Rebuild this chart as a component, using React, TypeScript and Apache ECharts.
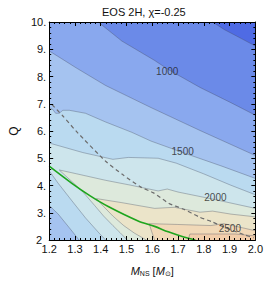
import React, { useEffect, useRef } from "react";
import * as echarts from "echarts";

// ---------- data ----------
const TITLE = "EOS 2H, χ=-0.25";
const X_MIN = 1.2, X_MAX = 2.0, X_STEP = 0.1;
const Y_MIN = 2, Y_MAX = 10, Y_STEP = 1;
const xTickLabels = ["1.2", "1.3", "1.4", "1.5", "1.6", "1.7", "1.8", "1.9", "2.0"];
const yTickLabels = ["2", "3.", "4.", "5.", "6.", "7.", "8.", "9.", "10."];

const levels = [750, 1000, 1250, 1500, 1750, 2000, 2250, 2500, 2750];

// contour 750 (top-right corner)
const c750 = [[1.834, 10], [1.88, 9.72], [1.94, 9.42], [2.0, 9.12]];
// contour 1000
const c1000 = [[1.39, 10], [1.482, 9.3], [1.609, 8.59], [1.665, 8.24], [1.785, 7.6], [1.905, 7.04], [2.0, 6.58]];
// contour 1250
const c1250 = [[1.2, 8.94], [1.306, 8.31], [1.419, 7.67], [1.595, 6.86], [1.785, 6.02], [2.0, 5.1]];
// contour 1500, main branch and lower-left branch
const c1500 = [[1.2, 6.86], [1.214, 6.79], [1.225, 6.65], [1.239, 6.65], [1.253, 6.76], [1.278, 6.76], [1.341, 6.65], [1.419, 6.33], [1.521, 5.95], [1.595, 5.63], [1.718, 5.21], [1.87, 4.71], [2.0, 4.26]];
const c1500b = [[1.2, 3.27], [1.235, 2.95], [1.278, 2.45], [1.316, 2.0]];
// contour 1750, main branch and lower-left branch
const c1750 = [[1.2, 5.56], [1.33, 5.21], [1.447, 4.96], [1.507, 5.03], [1.623, 5.0], [1.693, 4.82], [1.799, 4.43], [1.905, 4.01], [2.0, 3.66]];
const c1750b = [[1.2, 4.54], [1.235, 4.08], [1.288, 3.44], [1.341, 2.81], [1.394, 2.25], [1.419, 2.0]];
// contour 2000, upper edge from tip and lower edge from tip
const c2000 = [[1.239, 4.57], [1.306, 4.43], [1.419, 4.19], [1.517, 4.01], [1.552, 3.94], [1.623, 3.8], [1.658, 3.87], [1.7, 3.76], [1.845, 3.48], [2.0, 3.16]];
const c2000b = [[1.239, 4.57], [1.263, 4.36], [1.299, 4.05], [1.334, 3.73], [1.376, 3.27], [1.411, 2.88], [1.447, 2.53], [1.475, 2.27], [1.503, 2.0]];
// contour 2250
const c2250 = [[1.383, 3.52], [1.482, 3.37], [1.609, 3.16], [1.686, 3.2], [1.785, 3.02], [1.834, 3.06], [1.905, 2.95], [2.0, 2.85]];
const c2250b = [[1.383, 3.52], [1.411, 3.23], [1.447, 2.88], [1.489, 2.53], [1.531, 2.25], [1.577, 2.0]];
// contour 2500
const c2500 = [[1.588, 2.6], [1.697, 2.57], [1.827, 2.53], [1.877, 2.6], [1.94, 2.47], [2.0, 2.34]];
const c2500b = [[1.588, 2.6], [1.598, 2.3], [1.609, 2.0]];
// contour 2750
const c2750 = [[1.739, 2.0], [1.746, 2.22], [1.834, 2.22], [1.922, 2.22], [2.0, 2.15]];

// dashed grey curve
const dashed = [[1.211, 6.97], [1.253, 6.55], [1.309, 5.95], [1.419, 4.89], [1.485, 4.4], [1.556, 3.94], [1.605, 3.73], [1.665, 3.34], [1.722, 3.13], [1.781, 2.85], [1.831, 2.67], [1.887, 2.44], [1.958, 2.19], [1.993, 2.08]];
// green curve
const green = [[1.2, 4.71], [1.288, 4.08], [1.359, 3.62], [1.429, 3.23], [1.545, 2.7], [1.609, 2.5], [1.662, 2.3], [1.722, 2.11], [1.767, 2.0]];

// contour labels
const labelPoints = [[1.658, 8.2, "1000"], [1.718, 5.24, "1500"], [1.845, 3.55, "2000"], [1.901, 2.44, "2500"]];

// ---------- styles ----------
const bandColors = ["#4f6be4", "#6b8ae8", "#89a8ee", "#a5c3f0", "#badaf0", "#cde5ec", "#dde9dc", "#ebe4c9", "#f1d9b8", "#f2cdaa"];
const FONT = "Liberation Sans, Arial, sans-serif";

function rev(a: number[][]) {
  return a.slice().reverse();
}

export default function App() {
  const ref = useRef<HTMLDivElement>(null);
  useEffect(() => {
    if (!ref.current) return;
    const chart = echarts.init(ref.current, null, { renderer: "svg" });

    const BR = [X_MAX, Y_MIN];
    const BL = [X_MIN, Y_MIN];
    const TL = [X_MIN, Y_MAX];
    const TR = [X_MAX, Y_MAX];
    // regions with value >= level, painted in order
    const regions: number[][][] = [
      [TL, TR, BR, BL],
      [...c750, BR, BL, TL],
      [...c1000, BR, BL, TL],
      [...c1250, BR, BL],
      [...c1500, BR, ...rev(c1500b)],
      [...c1750, BR, ...rev(c1750b)],
      [...c2000, BR, ...rev(c2000b)],
      [...c2250, BR, ...rev(c2250b)],
      [...c2500, BR, ...rev(c2500b)],
      [...c2750, BR],
    ];

    const contourLines = [c750, c1000, c1250, c1500, c1500b, c1750, c1750b, c2000, c2000b, c2250, c2250b, c2500, c2500b, c2750];

    const axisCommon = {
      type: "value",
      z: 10,
      axisLine: { show: true, onZero: false, lineStyle: { color: "#000", width: 1 } },
      axisTick: { show: true, inside: true, length: 4, lineStyle: { color: "#000", width: 1 } },
      minorTick: { show: true, splitNumber: 5, length: 2, lineStyle: { color: "#000", width: 1 } },
      splitLine: { show: false },
    };

    const option: any = {
      animation: false,
      title: {
        text: TITLE,
        left: 97,
        top: 1,
        textStyle: { fontSize: 11, fontWeight: "normal", fontFamily: FONT, color: "#111" },
      },
      grid: { left: 30, right: 9, top: 22, bottom: 33, show: false },
      xAxis: [
        {
          ...axisCommon,
          position: "bottom",
          min: X_MIN,
          max: X_MAX,
          interval: X_STEP,
          axisLabel: {
            fontSize: 11,
            fontFamily: FONT,
            color: "#111",
            margin: 3,
            formatter: (v: number) => xTickLabels[Math.round((v - X_MIN) / X_STEP)] ?? "",
          },
          name: "{i|M}{s|NS} [{i|M}{s|⊙}]",
          nameLocation: "middle",
          nameGap: 25,
          nameTextStyle: {
            fontFamily: FONT,
            color: "#111",
            fontSize: 11,
            rich: {
              i: { fontStyle: "italic", fontSize: 11, fontFamily: FONT, color: "#111" },
              s: { fontSize: 7, fontFamily: FONT, color: "#111", padding: [5, 0, 0, 0] },
            },
          },
        },
        {
          ...axisCommon,
          position: "top",
          min: X_MIN,
          max: X_MAX,
          interval: X_STEP,
          axisLabel: { show: false },
        },
      ],
      yAxis: [
        {
          ...axisCommon,
          position: "left",
          min: Y_MIN,
          max: Y_MAX,
          interval: Y_STEP,
          axisLabel: {
            fontSize: 11,
            fontFamily: FONT,
            color: "#111",
            margin: 3,
            formatter: (v: number) => {
              const i = Math.round((v - Y_MIN) / Y_STEP);
              const t = yTickLabels[i] ?? "";
              return i === 0 ? "{b|" + t + "}" : t;
            },
            rich: {
              b: { fontSize: 11, fontFamily: FONT, color: "#111", padding: [0, 4, 0, 0] },
            },
          },
          name: "Q",
          nameLocation: "middle",
          nameRotate: 90,
          nameGap: 16,
          nameTextStyle: { fontFamily: FONT, fontSize: 12, color: "#111" },
        },
        {
          ...axisCommon,
          position: "right",
          min: Y_MIN,
          max: Y_MAX,
          interval: Y_STEP,
          axisLabel: { show: false },
        },
      ],
      series: [
        {
          type: "custom",
          coordinateSystem: "cartesian2d",
          xAxisIndex: 0,
          yAxisIndex: 0,
          silent: true,
          z: 1,
          data: regions.map((r) => r[0]),
          renderItem: (params: any, api: any) => {
            const poly = regions[params.dataIndex];
            const pts = poly.map((p) => api.coord(p));
            return {
              type: "polygon",
              shape: { points: pts },
              style: { fill: bandColors[params.dataIndex], stroke: null },
            };
          },
        },
        ...contourLines.map((c) => ({
          type: "line",
          xAxisIndex: 0,
          yAxisIndex: 0,
          data: c,
          symbol: "none",
          silent: true,
          z: 3,
          lineStyle: { color: "rgba(70,75,95,0.45)", width: 0.8 },
        })),
        {
          type: "line",
          data: dashed,
          symbol: "none",
          silent: true,
          smooth: 0.2,
          z: 4,
          lineStyle: { color: "#6c6c6c", width: 1.2, type: [4, 3] },
        },
        {
          type: "line",
          data: green,
          symbol: "none",
          silent: true,
          smooth: 0.3,
          z: 5,
          lineStyle: { color: "#1ea51e", width: 1.6 },
        },
        {
          type: "scatter",
          data: labelPoints,
          symbolSize: 1,
          silent: true,
          z: 6,
          itemStyle: { color: "rgba(0,0,0,0)" },
          label: {
            show: true,
            position: "inside",
            formatter: (p: any) => p.data[2],
            fontSize: 10,
            fontFamily: FONT,
            color: "#222",
          },
        },
      ],
    };
    chart.setOption(option);
    return () => chart.dispose();
  }, []);
  return <div ref={ref} style={{ position: "absolute", left: 0, top: 0, width: 266, height: 282 }} />;
}
